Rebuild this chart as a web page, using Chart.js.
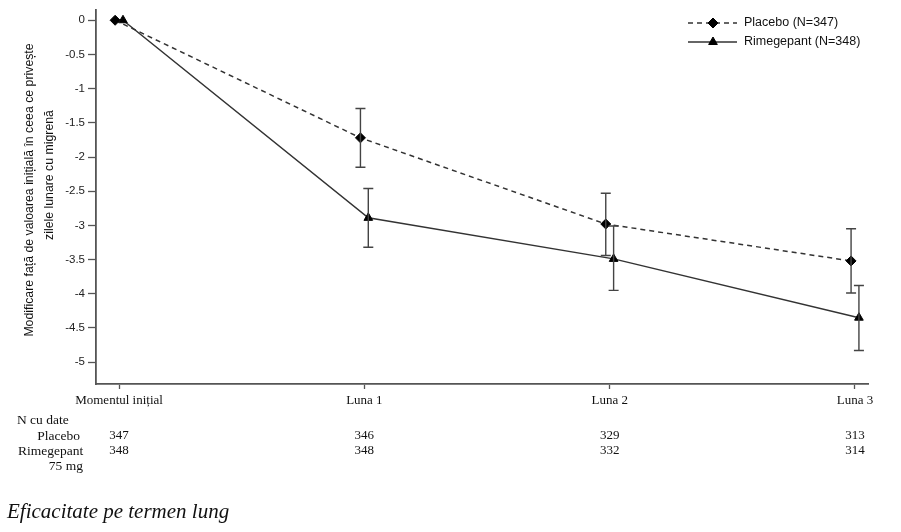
<!DOCTYPE html>
<html><head><meta charset="utf-8">
<script src="https://cdn.jsdelivr.net/npm/chart.js@4/dist/chart.umd.min.js"></script>
<style>html,body{margin:0;padding:0;background:#fff;overflow:hidden}</style>
</head><body><canvas id="c" width="901" height="532"></canvas>
<script>
const categories = ['Momentul inițial', 'Luna 1', 'Luna 2', 'Luna 3'];
const placeboMean = [0, -1.72, -2.98, -3.52];
const placeboLow  = [null, -2.15, -3.44, -3.99];
const placeboHigh = [null, -1.29, -2.53, -3.05];
const rimeMean = [0, -2.89, -3.49, -4.35];
const rimeLow  = [null, -3.32, -3.95, -4.83];
const rimeHigh = [null, -2.46, -3.01, -3.88];
const nPlacebo = [347, 346, 329, 313];
const nRime = [348, 348, 332, 314];
const yTickValues = [0, -0.5, -1, -1.5, -2, -2.5, -3, -3.5, -4, -4.5, -5];
const seriesNames = ['Placebo (N=347)', 'Rimegepant (N=348)'];
const yTitle = ['Modificare față de valoarea inițială în ceea ce privește', 'zilele lunare cu migrenă'];

const DODGE = 0.016;
const SANS = '"Liberation Sans", Arial, sans-serif';
const SERIF = '"Liberation Serif", "Times New Roman", serif';
const AX = '#555';
const LINE = '#333';

function pts(vals, off) { return vals.map((v, i) => ({x: i + off, y: v})); }

const extras = {
  id: 'extras',
  afterDatasetsDraw(chart) {
    const ctx = chart.ctx, xs = chart.scales.x, ys = chart.scales.y;
    ctx.save();
    ctx.strokeStyle = '#444';
    ctx.lineWidth = 1.4;
    const sets = [[placeboLow, placeboHigh, -DODGE], [rimeLow, rimeHigh, DODGE]];
    sets.forEach(([lo, hi, off]) => {
      lo.forEach((l, i) => {
        if (l === null) return;
        const x = xs.getPixelForValue(i + off);
        const y1 = ys.getPixelForValue(l), y2 = ys.getPixelForValue(hi[i]);
        ctx.beginPath();
        ctx.moveTo(x, y1); ctx.lineTo(x, y2);
        ctx.moveTo(x - 5, y1); ctx.lineTo(x + 5, y1);
        ctx.moveTo(x - 5, y2); ctx.lineTo(x + 5, y2);
        ctx.stroke();
      });
    });
    ctx.restore();
  },
  afterDraw(chart) {
    const ctx = chart.ctx, xs = chart.scales.x;
    ctx.save();
    ctx.fillStyle = '#111';
    ctx.font = '12.3px ' + SANS;
    ctx.textAlign = 'center';
    ctx.textBaseline = 'middle';
    [[30, 190], [50, 175]].forEach(([x, y], k) => {
      ctx.save(); ctx.translate(x, y); ctx.rotate(-Math.PI / 2);
      ctx.fillText(yTitle[k], 0, 0); ctx.restore();
    });
    const lx1 = 688, lx2 = 737, lm = 713, tx = 744;
    const rows = [23, 42];
    rows.forEach((ry, k) => {
      const ds = chart.data.datasets[k];
      ctx.strokeStyle = LINE; ctx.lineWidth = 1.5;
      ctx.setLineDash(ds.borderDash || []);
      ctx.beginPath(); ctx.moveTo(lx1, ry); ctx.lineTo(lx2, ry); ctx.stroke();
      ctx.setLineDash([]);
      ctx.fillStyle = '#000'; ctx.strokeStyle = '#000'; ctx.lineWidth = 1;
      Chart.helpers.drawPoint(ctx, {pointStyle: ds.pointStyle, radius: ds.pointRadius, borderWidth: 1, rotation: 0}, lm, ry);
      ctx.fillStyle = '#111';
      ctx.font = '12.5px ' + SANS;
      ctx.textAlign = 'left'; ctx.textBaseline = 'middle';
      ctx.fillText(seriesNames[k], tx, ry);
    });
    ctx.fillStyle = '#111';
    ctx.font = '13.5px ' + SERIF;
    ctx.textBaseline = 'middle';
    ctx.textAlign = 'left';
    ctx.fillText('N cu date', 17, 420);
    ctx.fillText('Rimegepant', 18, 451);
    ctx.textAlign = 'right';
    ctx.fillText('Placebo', 80, 436);
    ctx.fillText('75 mg', 83, 466);
    ctx.textAlign = 'center';
    ctx.font = '13px ' + SERIF;
    categories.forEach((c, i) => {
      const x = xs.getPixelForValue(i);
      ctx.fillText(String(nPlacebo[i]), x, 436);
      ctx.fillText(String(nRime[i]), x, 451);
    });
    ctx.textAlign = 'left';
    ctx.textBaseline = 'alphabetic';
    ctx.font = 'italic 21px ' + SERIF;
    ctx.fillText('Eficacitate pe termen lung', 7, 518);
    ctx.restore();
  }
};

new Chart(document.getElementById('c'), {
  type: 'line',
  data: {
    datasets: [
      {label: seriesNames[0], data: pts(placeboMean, -DODGE), borderColor: LINE, borderWidth: 1.5,
       borderDash: [5, 4], pointStyle: 'rectRot', pointRadius: 5, pointBackgroundColor: '#000',
       pointBorderColor: '#000', pointBorderWidth: 1, fill: false, tension: 0},
      {label: seriesNames[1], data: pts(rimeMean, DODGE), borderColor: LINE, borderWidth: 1.5,
       pointStyle: 'triangle', pointRadius: 5, pointBackgroundColor: '#000',
       pointBorderColor: '#000', pointBorderWidth: 1, fill: false, tension: 0}
    ]
  },
  options: {
    responsive: false, animation: false, devicePixelRatio: 1,
    layout: {padding: {left: 0, right: 33, top: 10, bottom: 0}},
    plugins: {legend: {display: false}, tooltip: {enabled: false}},
    scales: {
      x: {
        type: 'linear', min: -0.094, max: 3.053,
        afterBuildTicks: s => { s.ticks = categories.map((c, i) => ({value: i})); },
        afterFit: s => { s.height = 532 - 384; },
        ticks: {callback: v => categories[Math.round(v)], font: {family: SERIF, size: 13}, color: '#111',
                padding: 4, maxRotation: 0, autoSkip: false},
        grid: {drawOnChartArea: false, tickLength: 5, color: AX, tickWidth: 1.3},
        border: {color: AX, width: 1.8}
      },
      y: {
        type: 'linear', min: -5.32, max: 0.15,
        afterBuildTicks: s => { s.ticks = yTickValues.map(v => ({value: v})); },
        afterFit: s => { s.width = 96; },
        ticks: {callback: v => String(v), font: {family: SANS, size: 11.5}, color: '#222', padding: 3},
        grid: {drawOnChartArea: false, tickLength: 8, color: AX, tickWidth: 1.3},
        border: {color: AX, width: 1.8}
      }
    }
  },
  plugins: [extras]
});
</script></body></html>
